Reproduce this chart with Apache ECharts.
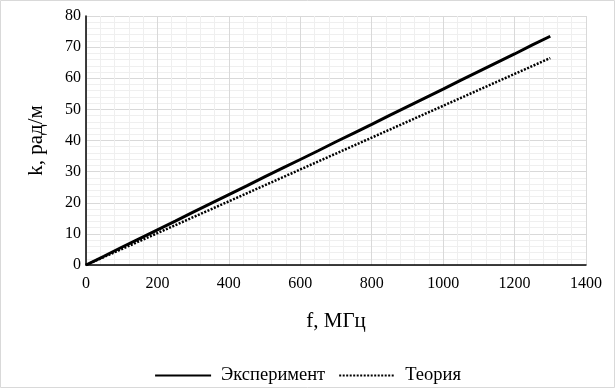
<!DOCTYPE html>
<html><head><meta charset="utf-8">
<script src="https://cdn.jsdelivr.net/npm/echarts@6/dist/echarts.min.js"></script>
<style>html,body{margin:0;padding:0;background:#fff}#c{width:615px;height:388px}</style>
</head><body><div id="c"></div>
<script>
var freq = [0,50,100,150,200,250,300,350,400,450,500,550,600,650,700,750,800,850,900,950,1000,1050,1100,1150,1200,1250,1300];
var kExp = [0,2.8,5.7,8.5,11.3,14.1,17.0,19.8,22.6,25.4,28.3,31.1,33.9,36.7,39.6,42.4,45.2,48.1,50.9,53.7,56.5,59.4,62.2,65.0,67.8,70.7,73.5];
var kTheory = [0,2.56,5.12,7.67,10.23,12.79,15.35,17.9,20.46,23.02,25.58,28.13,30.69,33.25,35.81,38.37,40.92,43.48,46.04,48.6,51.15,53.71,56.27,58.83,61.38,63.94,66.5];
var names = ['Эксперимент','Теория'];
var xTitle = 'f, МГц', yTitle = 'k, рад/м';

function pairs(xs, ys){ return xs.map(function(x,i){return [x, ys[i]];}); }
var font = '"Liberation Serif", "DejaVu Serif", serif';
var chart = echarts.init(document.getElementById('c'), null, {renderer:'canvas'});
chart.setOption({
  animation:false,
  backgroundColor:'#fff',
  graphic:[{type:'rect', shape:{x:0.5,y:0.5,width:614,height:387}, style:{fill:'none', stroke:'#d9d9d9', lineWidth:1}, silent:true, z:-1}],
  grid:{left:86, right:29, top:16, bottom:123, containLabel:false},
  xAxis:{type:'value', min:0, max:1400, interval:200,
    name:xTitle, nameLocation:'middle', nameGap:46,
    nameTextStyle:{fontFamily:font, fontSize:21, color:'#000'},
    axisLine:{show:true, lineStyle:{color:'#000', width:1.5}},
    axisTick:{show:false},
    axisLabel:{fontFamily:font, fontSize:16, color:'#000', margin:11, formatter:function(v){return String(v);}},
    splitLine:{show:true, lineStyle:{color:'#d9d9d9', width:1}},
    minorTick:{show:false, splitNumber:5},
    minorSplitLine:{show:true, lineStyle:{color:'#efefef', width:1}}
  },
  yAxis:{type:'value', min:0, max:80, interval:10,
    name:yTitle, nameLocation:'middle', nameGap:39,
    nameTextStyle:{fontFamily:font, fontSize:21, color:'#000'},
    axisLine:{show:true, lineStyle:{color:'#000', width:1.5}},
    axisTick:{show:false},
    axisLabel:{fontFamily:font, fontSize:16, color:'#000', margin:5, formatter:function(v){return String(v);}},
    splitLine:{show:true, lineStyle:{color:'#d9d9d9', width:1}},
    minorTick:{show:false, splitNumber:5},
    minorSplitLine:{show:true, lineStyle:{color:'#efefef', width:1}}
  },
  legend:{bottom:-2, left:'center', itemWidth:56, itemHeight:12, itemGap:13,
    itemStyle:{opacity:0},
    textStyle:{fontFamily:font, fontSize:18.5, color:'#000', padding:[0,0,0,5]},
    data:[names[0], names[1]]
  },
  series:[
    {name:names[0], type:'line', data:pairs(freq,kExp), symbol:'none', smooth:false,
      lineStyle:{color:'#000', width:3, type:'solid'}, itemStyle:{color:'#000'}},
    {name:names[1], type:'line', data:pairs(freq,kTheory), symbol:'none', smooth:false,
      lineStyle:{color:'#000', width:2.5, type:[2,1.5]}, itemStyle:{color:'#000'}}
  ]
});
</script></body></html>
